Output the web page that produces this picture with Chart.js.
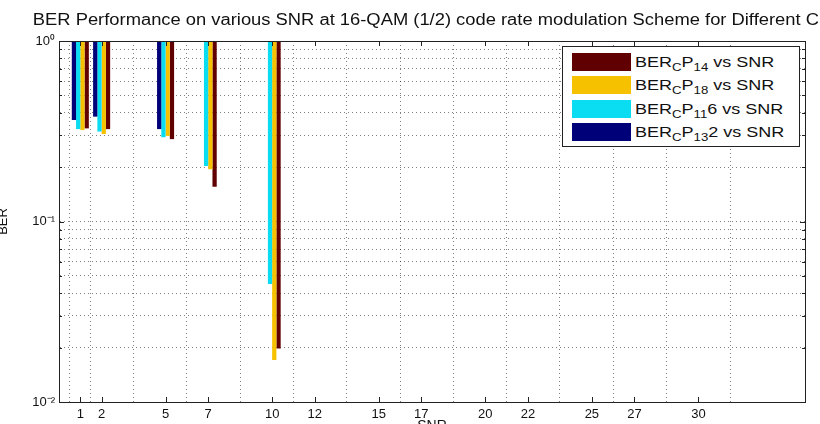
<!DOCTYPE html>
<html><head><meta charset="utf-8">
<script src="https://cdn.jsdelivr.net/npm/chart.js@4.4.1/dist/chart.umd.min.js"></script>
<style>
html,body{margin:0;padding:0;background:#fff;overflow:hidden;}
#wrap{position:relative;width:820px;height:424px;overflow:hidden;background:#fff;}
#c{position:absolute;left:-6px;top:0;}
#legend{position:absolute;left:562px;top:46px;width:236px;height:99px;border:1px solid #222;background:#fff;font-family:"Liberation Sans",Arial,sans-serif;font-size:15px;color:#111;}
.row{position:absolute;left:9px;height:19px;display:flex;align-items:center;white-space:nowrap;}
.sw{width:59px;height:18px;margin-right:4px;flex:none;}
.txt{display:inline-block;transform:scaleX(1.2);transform-origin:left center;}
sub{font-size:11px;vertical-align:-4px;line-height:0;}
</style></head>
<body><div id="wrap"><canvas id="c" width="830" height="440"></canvas><div id="legend"></div></div>
<script>
const TITLE = 'BER Performance on various SNR at 16-QAM (1/2) code rate modulation Scheme for Different CP';
const X_LABEL = 'SNR';
const Y_LABEL = 'BER';
const snr = [1, 2, 5, 7, 10];
const xTicks = [1, 2, 5, 7, 10, 12, 15, 17, 20, 22, 25, 27, 30];
const yTicks = [0.01,0.02,0.03,0.04,0.05,0.06,0.07,0.08,0.09,0.1,0.2,0.3,0.4,0.5,0.6,0.7,0.8,0.9,1];
// series in bar-group order (left to right)
const berCP132 = [0.365, 0.381, 0.325, null, null];
const berCP116 = [0.325, 0.315, 0.293, 0.203, 0.0451];
const berCP18  = [0.321, 0.305, 0.298, 0.195, 0.0171];
const berCP14  = [0.328, 0.325, 0.286, 0.156, 0.0198];
const seriesNames = ['BER_CP_132 vs SNR', 'BER_CP_116 vs SNR', 'BER_CP_18 vs SNR', 'BER_CP_14 vs SNR'];
const legendHtml = ['BER<sub>C</sub>P<sub>13</sub>2 vs SNR', 'BER<sub>C</sub>P<sub>11</sub>6 vs SNR', 'BER<sub>C</sub>P<sub>18</sub> vs SNR', 'BER<sub>C</sub>P<sub>14</sub> vs SNR'];
const colors = ['#000078', '#0adcf2', '#f6c200', '#600000'];
const seriesValues = [berCP132, berCP116, berCP18, berCP14];

const FONT = '"Liberation Sans", Arial, sans-serif';
const sup = {'0':'\u2070','1':'\u00b9','2':'\u00b2','-':'\u207b'};
function pow10Label(v){
  const e = Math.round(Math.log10(v));
  if (Math.abs(Math.pow(10,e) - v) > 1e-9) return '';
  return '10' + String(e).split('').map(ch => sup[ch] || ch).join('');
}

const datasets = seriesValues.map((vals, i) => ({
  label: seriesNames[i],
  data: snr.map((x, j) => ({x: x, y: vals[j]})),
  backgroundColor: colors[i],
  borderWidth: 0,
  base: 1,
  categoryPercentage: 0.8,
  barPercentage: 1.0
}));

const matlabPlugin = {
  id: 'matlabAxes',
  afterDraw(chart){
    const {ctx, chartArea: a, scales} = chart;
    ctx.save();
    // title (centred over the axes, slightly wide glyphs like the reference)
    ctx.fillStyle = '#111';
    ctx.font = '16px ' + FONT;
    ctx.textAlign = 'center';
    ctx.textBaseline = 'middle';
    ctx.save();
    ctx.translate((a.left + a.right) / 2, 21);
    ctx.scale(1.147, 1);
    ctx.fillText(TITLE, 0, 0);
    ctx.restore();
    // box
    ctx.strokeStyle = '#222';
    ctx.lineWidth = 1;
    ctx.strokeRect(Math.round(a.left) + 0.5, Math.round(a.top) + 0.5, Math.round(a.right - a.left), Math.round(a.bottom - a.top));
    // inward tick marks
    ctx.beginPath();
    scales.x.ticks.forEach(t => {
      const px = Math.round(scales.x.getPixelForValue(t.value)) + 0.5;
      ctx.moveTo(px, a.bottom); ctx.lineTo(px, a.bottom - 5);
      ctx.moveTo(px, a.top); ctx.lineTo(px, a.top + 5);
    });
    scales.y.ticks.forEach(t => {
      const py = Math.round(scales.y.getPixelForValue(t.value)) + 0.5;
      const len = pow10Label(t.value) ? 5 : 3;
      ctx.moveTo(a.left, py); ctx.lineTo(a.left + len, py);
      ctx.moveTo(a.right, py); ctx.lineTo(a.right - len, py);
    });
    ctx.stroke();
    ctx.restore();
  }
};

const chart = new Chart(document.getElementById('c'), {
  type: 'bar',
  data: {datasets},
  plugins: [matlabPlugin],
  options: {
    responsive: false,
    animation: false,
    layout: {padding: {top: 41, right: 19, left: 0, bottom: 0}},
    plugins: {legend: {display: false}, title: {display: false}, tooltip: {enabled: false}},
    scales: {
      x: {
        type: 'linear', min: 0, max: 35, offset: false,
        afterBuildTicks: s => { s.ticks = xTicks.map(v => ({value: v})); },
        afterFit: s => { s.height = 38; },
        ticks: {autoSkip: false, maxRotation: 0, padding: 5, color: '#111', font: {family: FONT, size: 13}},
        grid: {color: 'rgba(0,0,0,0.5)', drawTicks: false, lineWidth: 1},
        border: {display: true, color: '#222', dash: [1, 3]},
        title: {display: true, text: X_LABEL, color: '#111', font: {family: FONT, size: 14}, padding: {top: 0, bottom: 5}}
      },
      y: {
        type: 'logarithmic', min: 0.01, max: 1,
        afterBuildTicks: s => { s.ticks = yTicks.map(v => ({value: v})); },
        afterFit: s => { s.width = 65; },
        ticks: {autoSkip: false, padding: 4, color: '#111', font: {family: FONT, size: 13}, callback: v => pow10Label(v)},
        grid: {color: 'rgba(0,0,0,0.5)', drawTicks: false, lineWidth: 1},
        border: {display: true, color: '#222', dash: [1, 3]},
        title: {display: true, text: Y_LABEL, color: '#111', font: {family: FONT, size: 13}, padding: {top: 2, bottom: 0}}
      }
    }
  }
});

// HTML legend (supports subscripts), listed in reverse series order like the reference
const leg = document.getElementById('legend');
const tops = [5, 28, 52, 75];
chart.data.datasets.slice().reverse().forEach((ds, k) => {
  const idx = chart.data.datasets.length - 1 - k;
  const row = document.createElement('div');
  row.className = 'row';
  row.style.top = tops[k] + 'px';
  row.innerHTML = '<div class="sw" style="background:' + ds.backgroundColor + '"></div><span class="txt">' + legendHtml[idx] + '</span>';
  leg.appendChild(row);
});
</script>
</body></html>
